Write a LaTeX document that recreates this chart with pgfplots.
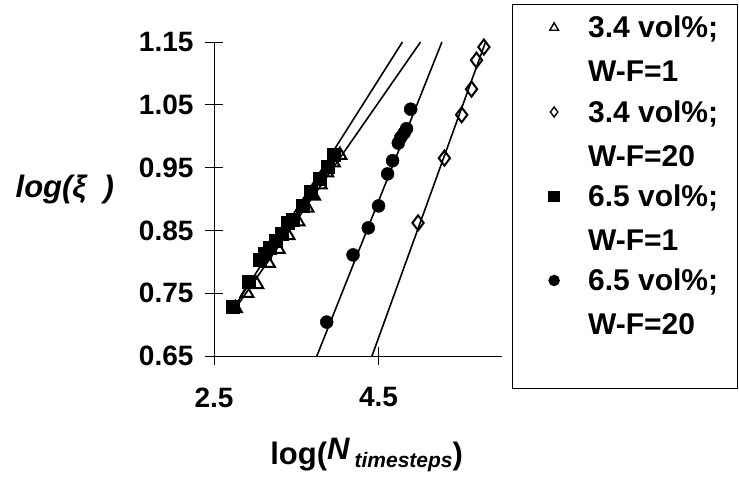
\documentclass[border=0pt]{standalone}
\usepackage{fontspec}
\setmainfont{Liberation Sans}
\usepackage{pgfplots}
\pgfplotsset{compat=1.18}
\begin{document}
\begin{tikzpicture}
\begin{axis}[
  scale only axis, width=288pt, height=314pt,
  xmin=2.5, xmax=6.0, ymin=0.65, ymax=1.15,
  axis x line*=bottom, axis y line*=left,
  xtick={2.5,4.5}, xticklabels={2.5,4.5},
  ytick={0.65,0.75,0.85,0.95,1.05,1.15},
  yticklabels={0.65,0.75,0.85,0.95,1.05,1.15},
  tick align=center, major tick length=18pt,
  tick style={black, line width=0.9pt},
  axis line style={black, line width=0.9pt},
  ticklabel style={font=\fontsize{28}{32}\selectfont\bfseries},
  /pgf/number format/assume math mode=true,
  yticklabel style={xshift=-8pt},
  xticklabel style={yshift=-19pt},
  clip mode=individual,
  xlabel={log(\raisebox{0.3ex}{\itshape N}\,\raisebox{-0.2ex}{\fontsize{21}{21}\selectfont\itshape timesteps})},
  every axis x label/.style={at={(axis description cs:0.53,-0.315)}, anchor=center,
     font=\fontsize{31}{34}\selectfont\bfseries},
  ylabel={\itshape log(ξ\ \ )},
  every axis y label/.style={at={(axis description cs:-0.518,0.53)}, anchor=center,
     font=\fontsize{31}{34}\selectfont\bfseries},
  legend style={at={(1.038,1.118)}, anchor=north west, draw=none, fill=none,
    font=\fontsize{30}{44}\selectfont\bfseries, cells={align=left},
    row sep=13pt, inner xsep=36pt, inner ysep=9pt,
    /tikz/every odd column/.append style={column sep=27pt}},
  legend cell align=left,
  legend image code/.code={\draw[mark repeat=2,mark phase=2,#1] plot coordinates {(0pt,22pt)(20pt,22pt)(40pt,22pt)};},
  legend image post style={mark size=5pt, line width=1.4pt},
]
\addplot[only marks, mark=triangle*, mark size=7.5pt, draw=black, fill=white, line width=2pt] coordinates {
(2.76,0.726) (2.90,0.750) (3.02,0.764) (3.16,0.798) (3.28,0.820) (3.40,0.842) (3.52,0.864) (3.63,0.886) (3.71,0.905) (3.79,0.923) (3.87,0.942) (3.95,0.958) (4.03,0.970)};
\addlegendentry{3.4 vol\%;\\W-F=1}
\addplot[only marks, mark=diamond*, mark size=7.5pt, draw=black, fill=white, line width=2pt] coordinates {
(4.98,0.862) (5.30,0.965) (5.51,1.034) (5.63,1.075) (5.69,1.121) (5.78,1.142)};
\addlegendentry{3.4 vol\%;\\W-F=20}
\addplot[only marks, mark=square*, mark size=6.5pt, draw=black, fill=black] coordinates {
(2.73,0.728) (2.92,0.768) (3.06,0.803) (3.12,0.813) (3.18,0.822) (3.25,0.834) (3.32,0.845) (3.40,0.862) (3.46,0.867) (3.58,0.890) (3.68,0.912) (3.78,0.932) (3.88,0.952) (3.96,0.970)};
\addlegendentry{6.5 vol\%;\\W-F=1}
\addplot[only marks, mark=*, mark size=6.5pt, draw=black, fill=black] coordinates {
(3.87,0.704) (4.19,0.811) (4.375,0.854) (4.50,0.889) (4.61,0.940) (4.67,0.961) (4.74,0.989) (4.77,0.998) (4.81,1.005) (4.84,1.012) (4.89,1.043)};
\addlegendentry{6.5 vol\%;\\W-F=20}
% trend lines
\addplot[forget plot, black, line width=1.6pt] coordinates {(2.74,0.722) (5.01,1.15)};
\addplot[forget plot, black, line width=1.6pt] coordinates {(4.42,0.65) (5.80,1.15)};
\addplot[forget plot, black, line width=1.6pt] coordinates {(2.72,0.722) (4.79,1.15)};
\addplot[forget plot, black, line width=1.6pt] coordinates {(3.75,0.65) (5.27,1.15)};
\coordinate (O) at (rel axis cs:0,0);
\coordinate (LB1) at (rel axis cs:1.038,1.118);
\coordinate (LB2) at (rel axis cs:1.816,-0.102);
\end{axis}
\draw[black, line width=0.9pt] (LB1) rectangle (LB2);
\pgfresetboundingbox
\path (O) ++(-214pt,-122pt) rectangle ++(739pt,478pt);
\end{tikzpicture}
\end{document}
